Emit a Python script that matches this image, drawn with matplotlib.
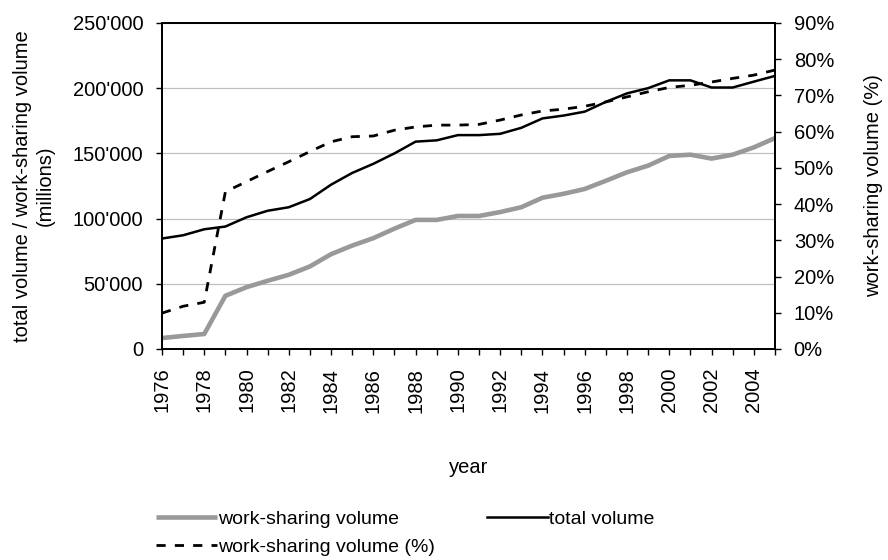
import numpy as np
import matplotlib
matplotlib.use('Agg')
import matplotlib.pyplot as plt
from matplotlib.ticker import FuncFormatter, MultipleLocator

plt.rcParams['font.family'] = ['Liberation Sans', 'DejaVu Sans']

# data (millions / percent)
years = list(range(1976, 2006))
total_volume = [84.7, 87.2, 91.8, 93.9, 101.0, 106.0, 108.7, 115.0, 126.0, 135.0,
                142.0, 150.0, 159.0, 160.0, 164.0, 164.0, 165.0, 169.6, 176.8, 179.0,
                182.0, 189.5, 196.0, 200.0, 206.0, 206.0, 200.5, 200.5, 205.0, 209.4]
ws_volume = [8.4, 10.0, 11.5, 40.8, 47.4, 52.3, 56.9, 63.3, 72.7, 79.3,
             85.0, 92.3, 99.0, 99.0, 102.0, 102.0, 105.0, 108.7, 116.0, 119.0,
             122.7, 129.0, 135.5, 140.6, 148.0, 149.0, 146.0, 149.0, 154.6, 161.7]
ws_pct = [9.9, 11.8, 12.9, 43.4, 46.2, 49.0, 51.7, 54.5, 57.2, 58.6,
          58.8, 60.4, 61.3, 61.8, 61.8, 62.0, 63.2, 64.6, 65.7, 66.2,
          67.0, 68.2, 69.6, 71.0, 72.2, 72.8, 73.7, 74.7, 75.6, 77.0]

total_volume = np.array(total_volume) * 1000
ws_volume = np.array(ws_volume) * 1000

fs = 14.5
fig = plt.figure(figsize=(8.88, 5.6), dpi=100)
ax = fig.add_axes([0.1824, 0.3768, 0.6903, 0.5822])
ax2 = ax.twinx()

l1, = ax.plot(years, ws_volume, color='#999999', lw=3.3, solid_capstyle='butt',
              label='work-sharing volume')
l2, = ax.plot(years, total_volume, color='black', lw=1.8, label='total volume')
l3, = ax2.plot(years, ws_pct, color='black', lw=2.0, linestyle=(0, (3.3, 3.3)),
               label='work-sharing volume (%)')

ax.set_xlim(1976, 2005)
ax.set_ylim(0, 250000)
ax2.set_ylim(0, 90)

ax.yaxis.set_major_locator(MultipleLocator(50000))
ax.yaxis.set_major_formatter(FuncFormatter(lambda v, p: '0' if v == 0 else f"{int(v):,}".replace(',', "'")))
ax2.yaxis.set_major_locator(MultipleLocator(10))
ax2.yaxis.set_major_formatter(FuncFormatter(lambda v, p: f"{int(round(v))}%"))

ax.set_xticks(years)
ax.set_xticklabels([str(y) if (y - 1976) % 2 == 0 else '' for y in years], rotation=90)

ax.grid(axis='y', color='#c0c0c0', lw=0.9)
ax.set_axisbelow(True)

for a in (ax, ax2):
    for s in a.spines.values():
        s.set_linewidth(1.3)
    a.tick_params(direction='out', length=4.5, width=1.0, labelsize=fs, pad=9)

ax.set_ylabel("total volume / work-sharing volume\n(millions)", fontsize=fs, linespacing=1.25)
ax.yaxis.set_label_coords(-0.1755, 0.5)
ax2.set_ylabel("work-sharing volume (%)", fontsize=fs)
ax2.yaxis.set_label_coords(1.146, 0.5)
ax.set_xlabel("year", fontsize=fs)
ax.xaxis.set_label_coords(0.5, -0.335)

fig.legend([l1, l3, l2], [l1.get_label(), l3.get_label(), l2.get_label()],
           loc='upper left', bbox_to_anchor=(0.1672, 0.1024), ncol=2,
           frameon=False, fontsize=14, handlelength=3.1, handletextpad=0.08,
           columnspacing=2.7, labelspacing=0.52, borderaxespad=0)

fig.savefig('out.png', dpi=100)
